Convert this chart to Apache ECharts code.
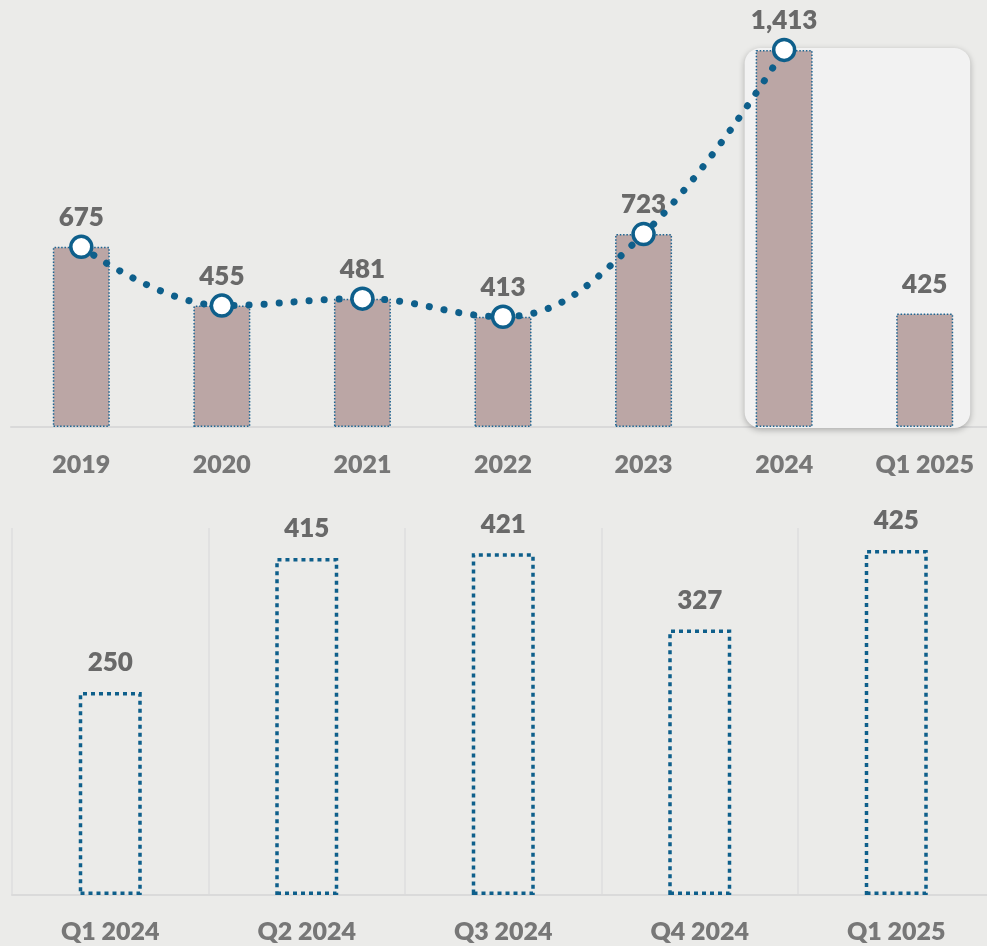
<!DOCTYPE html>
<html>
<head>
<meta charset="utf-8">
<script src="https://cdn.jsdelivr.net/npm/echarts@6/dist/echarts.min.js"></script>
<style>
  html, body { margin: 0; padding: 0; background: #ebebe9; }
  #main { width: 987px; height: 946px; }
</style>
</head>
<body>
<div id="main"></div>
<script>
"use strict";

// 年度数据（上图）
const yearCats = ['2019', '2020', '2021', '2022', '2023', '2024', 'Q1 2025'];
const yearValues = [675, 455, 481, 413, 723, 1413, 425];
// 趋势线只画到 2024
const trendValues = [675, 455, 481, 413, 723, 1413, '-'];

// 季度数据（下图）
const quarterCats = ['Q1 2024', 'Q2 2024', 'Q3 2024', 'Q4 2024', 'Q1 2025'];
const quarterValues = [250, 415, 421, 327, 425];

const BLUE = '#0e5f8b';
const LABEL_FONT = 'Lato, "Open Sans", sans-serif';

const chart = echarts.init(document.getElementById('main'));

const valueLabel = {
    show: true,
    position: 'top',
    distance: 16,
    color: '#696969',
    fontFamily: LABEL_FONT,
    fontWeight: 800,
    fontSize: 26,
    formatter: p => Number(p.value).toLocaleString('en-US')
};

const axisLabel = {
    color: '#777777',
    fontFamily: LABEL_FONT,
    fontWeight: 800,
    fontSize: 25,
    margin: 25
};

const option = {
    backgroundColor: '#ebebe9',
    animation: false,
    grid: [
        { left: 11, top: 0, width: 984, height: 427, outerBoundsMode: 'none', containLabel: false },
        { left: 12, top: 528, width: 982.5, height: 367, outerBoundsMode: 'none', containLabel: false }
    ],
    xAxis: [{
        type: 'category',
        gridIndex: 0,
        data: yearCats,
        axisTick: { show: false },
        axisLine: { lineStyle: { color: '#d9d9d9', width: 2 } },
        axisLabel: axisLabel
    }, {
        type: 'category',
        gridIndex: 1,
        data: quarterCats,
        axisTick: { show: false },
        axisLine: { lineStyle: { color: '#dadada', width: 2 } },
        splitLine: { show: true, lineStyle: { color: '#dedede', width: 1.5 } },
        axisLabel: Object.assign({}, axisLabel, { margin: 24 })
    }],
    yAxis: [{
        type: 'value',
        gridIndex: 0,
        min: 0,
        max: 1600,
        show: false
    }, {
        type: 'value',
        gridIndex: 1,
        min: 0,
        max: 452,
        show: false
    }],
    series: [{
        type: 'bar',
        name: '年度',
        xAxisIndex: 0,
        yAxisIndex: 0,
        barWidth: 57,
        z: 3,
        itemStyle: {
            color: '#bba6a5',
            borderColor: '#1d6592',
            borderWidth: 1.5,
            borderType: [1.5, 1.8]
        },
        label: valueLabel,
        data: yearValues
    }, {
        type: 'line',
        name: '趋势',
        xAxisIndex: 0,
        yAxisIndex: 0,
        z: 4,
        smooth: 0.4,
        symbol: 'circle',
        symbolSize: 21,
        itemStyle: {
            color: '#ffffff',
            borderColor: BLUE,
            borderWidth: 3.5
        },
        lineStyle: {
            color: BLUE,
            width: 7,
            type: [0.1, 15],
            cap: 'round'
        },
        data: trendValues
    }, {
        type: 'bar',
        name: '季度',
        xAxisIndex: 1,
        yAxisIndex: 1,
        barWidth: 63,
        itemStyle: {
            color: 'rgba(0,0,0,0)',
            borderColor: BLUE,
            borderWidth: 3.5,
            borderType: [4, 4]
        },
        label: valueLabel,
        data: quarterValues
    }]
};
chart.setOption(option);

// 高亮框：覆盖 2024 与 Q1 2025 两根柱子
const p2024 = chart.convertToPixel({ gridIndex: 0 }, ['2024', yearValues[5]]);
const pQ1 = chart.convertToPixel({ gridIndex: 0 }, ['Q1 2025', 0]);
const boxLeft = p2024[0] - 28.5 - 11;
const boxRight = pQ1[0] + 28.5 + 17;
const boxTop = p2024[1] - 2;
const boxBottom = pQ1[1] + 1;

chart.setOption({
    graphic: [{
        type: 'rect',
        z: 1,
        shape: {
            x: boxLeft,
            y: boxTop,
            width: boxRight - boxLeft,
            height: boxBottom - boxTop,
            r: 16
        },
        style: {
            fill: '#f2f2f2',
            shadowBlur: 6,
            shadowOffsetY: 2,
            shadowColor: 'rgba(0,0,0,0.28)'
        }
    }]
});
</script>
</body>
</html>
